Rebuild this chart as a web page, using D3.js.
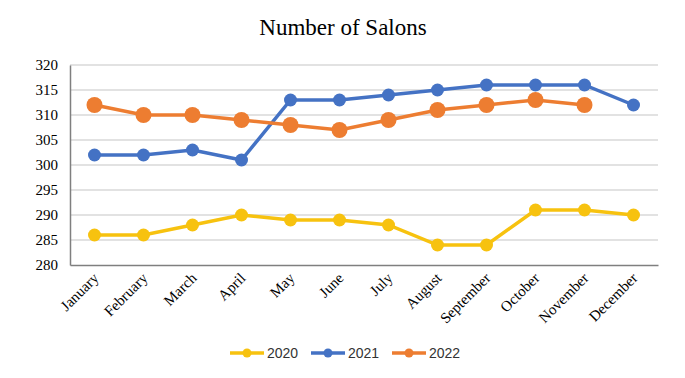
<!DOCTYPE html>
<meta charset="utf-8">
<style>
body { margin: 0; background: #fff; }
.grid line { stroke: #d9d9d9; stroke-width: 1.5px; }
</style>
<body>
<script src="https://cdn.jsdelivr.net/npm/d3@7"></script>
<script>
var months = ["January","February","March","April","May","June","July","August","September","October","November","December"];
var s2020 = [286,286,288,290,289,289,288,284,284,291,291,290];
var s2021 = [302,302,303,301,313,313,314,315,316,316,316,312];
var s2022 = [312,310,310,309,308,307,309,311,312,313,312,null];
var yTicks = [280,285,290,295,300,305,310,315,320];

var series = [
  {name: "2020", values: s2020, color: "#f7c20f", r: 6.5},
  {name: "2021", values: s2021, color: "#4472c4", r: 6.5},
  {name: "2022", values: s2022, color: "#ed7d31", r: 8}
];

var serif = "'Liberation Serif', 'Times New Roman', serif";
var width = 685, height = 378;
var svg = d3.select("body").append("svg")
    .attr("width", width)
    .attr("height", height);

var x = d3.scaleBand().domain(months).range([70, 658]);
var y = d3.scaleLinear().domain([280, 320]).range([265, 65]);

svg.append("text")
    .attr("x", 343).attr("y", 35)
    .attr("text-anchor", "middle")
    .attr("font-family", serif)
    .attr("font-size", 23)
    .text("Number of Salons");

// gridlines
svg.append("g").attr("class", "grid")
  .selectAll("line").data(yTicks.slice(1)).enter().append("line")
    .attr("x1", 70).attr("x2", 658)
    .attr("y1", d => y(d)).attr("y2", d => y(d));

var yAxis = svg.append("g")
    .attr("transform", "translate(70,0)")
    .call(d3.axisLeft(y).tickValues(yTicks).tickSize(0).tickPadding(12))
    .attr("font-family", serif)
    .attr("font-size", 15);
yAxis.select(".domain").attr("stroke", "#7f7f7f").attr("stroke-width", 1.5);
yAxis.selectAll(".tick text").attr("fill", "#000");

var xAxis = svg.append("g")
    .attr("transform", "translate(0,265)")
    .call(d3.axisBottom(x).tickSize(0).tickSizeOuter(0))
    .attr("font-family", serif)
    .attr("font-size", 15);
xAxis.select(".domain").attr("stroke", "#7f7f7f").attr("stroke-width", 1.5);
xAxis.selectAll(".tick text")
    .attr("fill", "#000")
    .attr("text-anchor", "end")
    .attr("y", 0)
    .attr("dy", 0)
    .attr("transform", "translate(5,14) rotate(-45)");

var line = d3.line()
    .defined(d => d != null)
    .x((d, i) => x(months[i]) + x.bandwidth() / 2)
    .y(d => y(d));

series.forEach(function(s) {
  var g = svg.append("g");
  g.append("path")
    .datum(s.values)
    .attr("fill", "none")
    .attr("stroke", s.color)
    .attr("stroke-width", 3.5)
    .attr("d", line);
  g.selectAll("circle")
    .data(s.values.map((v, i) => ({v: v, m: months[i]})).filter(d => d.v != null))
    .enter().append("circle")
      .attr("cx", d => x(d.m) + x.bandwidth() / 2)
      .attr("cy", d => y(d.v))
      .attr("r", s.r)
      .attr("fill", s.color);
});

// legend
var lx = [230, 311, 392];
var legend = svg.append("g")
    .attr("font-family", "'Liberation Sans', Arial, sans-serif")
    .attr("font-size", 14)
    .attr("fill", "#333");
series.forEach(function(s, i) {
  var g = legend.append("g").attr("transform", "translate(" + lx[i] + ",353)");
  g.append("line").attr("x1", 0).attr("x2", 34).attr("stroke", s.color).attr("stroke-width", 3.5);
  g.append("circle").attr("cx", 17).attr("r", 4.5).attr("fill", s.color);
  g.append("text").attr("x", 37).attr("dy", "0.35em").text(s.name);
});
</script>
</body>
